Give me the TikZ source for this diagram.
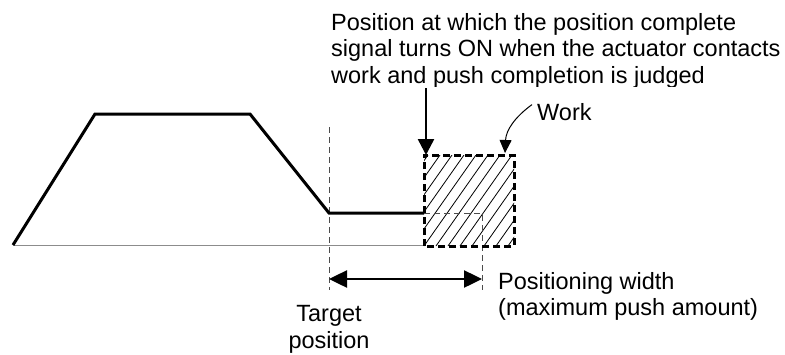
\documentclass[tikz,border=0pt]{standalone}
\usepackage{fontspec}
\setmainfont{Liberation Sans}
\usetikzlibrary{arrows.meta}
\begin{document}
\begin{tikzpicture}[x=1pt,y=-1pt,
  font=\fontsize{23.5}{26.5}\selectfont,
  thickline/.style={line width=3pt, line join=miter},
  thindash/.style={line width=0.9pt, dash pattern=on 6pt off 4pt, black!70},
  txt/.style={inner sep=0pt, align=left, anchor=base west},
  bigtip/.style={-{Triangle[length=16pt,width=16pt]}},
  dblarrow/.style={line width=2.5pt, {Triangle[length=18pt,width=17pt]}-{Triangle[length=18pt,width=17pt]}},
  workbox/.style={draw=none, minimum width=90pt, minimum height=91pt, inner sep=0pt, outer sep=0pt}]
\useasboundingbox (0,0) rectangle (785,354);
% profile coordinates
\coordinate (s) at (13,245);
\coordinate (p1) at (95,114);
\coordinate (p2) at (250,114);
\coordinate (p3) at (329,213);
\coordinate (p4) at (424,213);
\coordinate (be) at (424,245);
% work box
\node[workbox] (work) at (469,200.5) {};
\begin{scope}
  \clip (work.south west) rectangle (work.north east);
  \foreach \c in {352,364,...,520} \draw[line width=0.8pt] (\c,246) -- ++(64,-91);
\end{scope}
% baseline
\draw[black!45, line width=1pt] (s) -- (be);
% thin dashed lines
\coordinate (tt) at (329,127);
\coordinate (tb) at (329,290);
\coordinate (pw) at (482,213);
\coordinate (pb) at (482,290);
\draw[thindash] (tt) -- (tb);
\draw[thindash] (p4) -- (pw) -- (pb);
% profile
\draw[thickline] (s) -- (p1) -- (p2) -- (p3) -- (p4);
% box outline
\draw[line width=3pt, dash pattern=on 7pt off 4pt] (work.south west) rectangle (work.north east);
% positioning width arrow
\coordinate (al) at (329,279);
\coordinate (ar) at (482,279);
\draw[dblarrow] (al) -- (ar);
% top text
\node[txt] (top) at (331,83) {Position at which the position complete\\signal turns ON when the actuator contacts\\work and push completion is judged};
\fill[white] (330,87) rectangle (785,100);
% down arrow
\coordinate (da) at (426,88);
\draw[line width=2.5pt, bigtip] (da) -- (work.north west -| da);
% work label
\node[txt] (wl) at (537,120) {Work};
\draw[line width=1pt, -{Triangle[length=13pt,width=12pt]}] (wl.west) ++(-5,-7) .. controls (515,117) and (506,130) .. (505,153);
% other labels
\node[txt] (pwl) at (498,315.5) {Positioning width\\(maximum push amount)};
\node[inner sep=0pt, align=center, anchor=base] (tpl) at (329,348) {Target\\position};
\end{tikzpicture}
\end{document}
